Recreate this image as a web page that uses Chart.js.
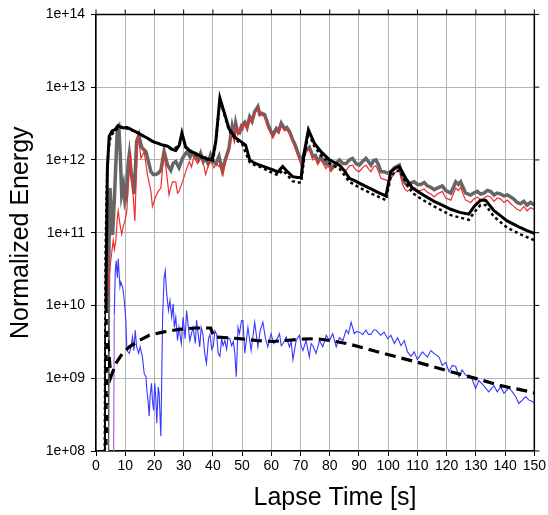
<!DOCTYPE html>
<html>
<head>
<meta charset="utf-8">
<script src="https://cdn.jsdelivr.net/npm/chart.js@4.4.0/dist/chart.umd.min.js"></script>
<style>
  html, body { margin: 0; padding: 0; background: #fff; }
  #energy { display: block; }
</style>
</head>
<body>
<canvas id="energy" width="548" height="515"></canvas>
<script>
// Tick labels
const xTicks = [0, 10, 20, 30, 40, 50, 60, 70, 80, 90, 100, 110, 120, 130, 140, 150];
const yTicks = [1e8, 1e9, 1e10, 1e11, 1e12, 1e13, 1e14];

// Total energy (thick black)
const blackT = [3.2, 3.5, 3.9, 4.5, 5.5, 6.5, 7.5, 8.5, 9.5, 10.5, 11.5, 12.5, 13.5, 14.8, 16, 17.5, 19.3, 21, 22.8, 24.5, 26, 27.3, 28.5, 29.4, 30.7, 32.5, 34.1, 36, 37.5, 39.8, 41, 42.4, 43.8, 45.5, 47.8, 49.5, 51.2, 52.6, 54.3, 56, 57.5, 59.4, 61, 62.2, 63.9, 65.5, 67.3, 69, 70.2, 71.3, 72.7, 74.7, 77, 79.9, 81.5, 83.3, 85, 86.7, 88.5, 90.1, 92.5, 94.6, 97, 99.2, 100.9, 102.6, 103.8, 106, 108.3, 112, 115.7, 118.5, 121.4, 124.5, 127.6, 129.4, 131.6, 133.3, 136.2, 138.5, 140.7, 143, 145.3, 147.5, 149.3, 150];
const blackE = [8e7, 3.2e10, 7.9e11, 2.1e12, 2.5e12, 2.6e12, 2.95e12, 2.8e12, 2.75e12, 2.8e12, 2.7e12, 2.55e12, 2.45e12, 2.3e12, 2.15e12, 2.0e12, 1.8e12, 1.7e12, 1.6e12, 1.55e12, 1.4e12, 1.35e12, 1.6e12, 2.35e12, 1.5e12, 1.3e12, 1.23e12, 1.12e12, 1.05e12, 1.0e12, 1.8e12, 7.1e12, 4.6e12, 2.7e12, 2.0e12, 1.8e12, 1.6e12, 1.0e12, 9.0e11, 8.5e11, 8.1e11, 7.6e11, 7.2e11, 6.8e11, 8.1e11, 6.9e11, 5.9e11, 5.75e11, 5.75e11, 1.3e12, 2.6e12, 1.7e12, 1.3e12, 1.0e12, 9.3e11, 8.5e11, 7.1e11, 5.6e11, 5.2e11, 4.8e11, 4.3e11, 3.9e11, 3.5e11, 3.2e11, 6.9e11, 7.8e11, 8.1e11, 5.6e11, 4.1e11, 3.3e11, 2.7e11, 2.4e11, 2.1e11, 1.9e11, 1.8e11, 2.3e11, 2.8e11, 2.8e11, 2.0e11, 1.7e11, 1.45e11, 1.3e11, 1.17e11, 1.07e11, 1.0e11, 9.8e10];

// Total energy, second estimate (black dotted)
const dotT = [3.0, 3.3, 3.8, 4.3, 5, 6.5, 8, 10, 12, 14.8, 17.5, 20, 23, 26, 28.5, 29.4, 30.7, 34, 37.5, 40, 41, 42.4, 43.8, 45.5, 47.8, 50, 52.6, 54.3, 57, 59.4, 62.2, 63.9, 65.5, 67.3, 69, 70.2, 71.3, 72.7, 74.7, 77, 80, 83.3, 86.7, 90, 94.6, 99.2, 100.9, 102.6, 103.8, 106, 108.3, 112, 115.7, 121.4, 127.6, 129.4, 131.6, 133.3, 136.2, 140.7, 145.3, 149.3, 150];
const dotE = [8e7, 6.3e10, 6.3e11, 1.4e12, 2.15e12, 2.5e12, 2.9e12, 2.75e12, 2.6e12, 2.3e12, 2.0e12, 1.75e12, 1.6e12, 1.4e12, 1.55e12, 2.25e12, 1.5e12, 1.2e12, 1.02e12, 9.8e11, 1.7e12, 6.8e12, 4.4e12, 2.55e12, 1.9e12, 1.65e12, 9.3e11, 8.5e11, 7.8e11, 6.9e11, 6.2e11, 7.2e11, 6.2e11, 5.1e11, 4.9e11, 4.9e11, 1.12e12, 2.35e12, 1.55e12, 1.15e12, 8.9e11, 7.6e11, 5.0e11, 4.2e11, 3.4e11, 2.8e11, 6.0e11, 6.9e11, 7.2e11, 5.0e11, 3.5e11, 2.8e11, 2.3e11, 1.74e11, 1.5e11, 1.9e11, 2.4e11, 2.4e11, 1.66e11, 1.17e11, 9.5e10, 8.1e10, 7.9e10];

// Horizontal component (gray)
const grayT = [3.8, 4.3, 4.8, 5.3, 5.7, 6.3, 7.3, 7.8, 8.3, 8.8, 9.4, 9.9, 10.4, 11.0, 11.4, 12.0, 12.5, 13.0, 13.5, 13.9, 14.7, 15.4, 15.9, 17.1, 17.8, 18.8, 19.6, 20.5, 21.3, 22.2, 23.3, 24.5, 25.6, 26.4, 27.3, 28.4, 29.6, 30.5, 31.3, 32.2, 33.0, 34.1, 35.0, 35.8, 36.7, 37.5, 38.3, 39.2, 40.1, 41.0, 42.1, 43.2, 44.4, 45.5, 46.6, 47.3, 47.8, 48.5, 49.1, 50.0, 50.9, 51.7, 52.6, 53.4, 54.3, 55.4, 56.0, 56.6, 57.7, 58.5, 59.4, 60.5, 61.7, 62.5, 63.4, 64.5, 65.3, 66.2, 67.3, 68.2, 69.1, 70.2, 71.3, 72.1, 73.0, 74.2, 75.1, 75.9, 77.0, 77.8, 78.7, 79.5, 80.4, 81.2, 82.1, 83.3, 84.5, 85.6, 86.7, 87.8, 89.0, 90.1, 91.2, 92.4, 93.2, 94.1, 95.0, 95.8, 96.7, 97.5, 98.6, 99.8, 101.0, 102.1, 103.8, 104.9, 105.8, 106.6, 107.7, 108.9, 110.0, 111.2, 112.3, 113.4, 114.6, 115.7, 116.8, 118.5, 119.7, 121.4, 122.3, 123.1, 124.0, 124.8, 125.6, 126.5, 127.4, 128.2, 129.3, 130.5, 131.6, 132.8, 133.9, 135.0, 136.2, 137.3, 138.5, 139.6, 140.8, 141.9, 143.0, 144.1, 145.2, 146.4, 147.5, 148.7, 150.0];
const grayE = [1e7, 3e10, 4.1e11, 1.5e11, 9.3e10, 3e11, 2.7e12, 2.9e12, 1.2e12, 3.4e11, 4.5e11, 2.7e11, 3.2e11, 9e11, 1.2e12, 7e11, 5e11, 3.4e11, 8e11, 1.8e12, 2.2e12, 1.6e12, 1.45e12, 1.3e12, 1.0e12, 6.9e11, 6.3e11, 6.3e11, 6.6e11, 7.2e11, 1.3e12, 8.5e11, 7.2e11, 9e11, 9.5e11, 7.8e11, 1.05e12, 1.2e12, 1.3e12, 1.1e12, 1.23e12, 1.12e12, 1.0e12, 1.23e12, 9.5e11, 1.05e12, 9e11, 1.17e12, 9.5e11, 8.9e11, 1.12e12, 7.2e11, 1.05e12, 1.45e12, 2.9e12, 2.2e12, 3.2e12, 2.4e12, 2.35e12, 3.0e12, 3.3e12, 2.8e12, 3.9e12, 3.4e12, 4.6e12, 5.4e12, 4.3e12, 4.4e12, 4.2e12, 3.4e12, 2.7e12, 2.2e12, 2.7e12, 2.5e12, 3.2e12, 2.7e12, 2.8e12, 2.45e12, 1.9e12, 1.6e12, 1.25e12, 9.5e11, 1.25e12, 1.4e12, 1.5e12, 1.12e12, 1.15e12, 9.5e11, 1.12e12, 9.5e11, 8.8e11, 9.5e11, 7.6e11, 8.3e11, 9e11, 1.0e12, 8.9e11, 8.9e11, 1.0e12, 1.05e12, 8.9e11, 8.5e11, 9.5e11, 1.05e12, 9.5e11, 8.5e11, 9.8e11, 1.0e12, 8.5e11, 6.9e11, 6.9e11, 6.6e11, 6.9e11, 7.8e11, 8.5e11, 5.6e11, 4.8e11, 4.4e11, 4.8e11, 5.0e11, 4.6e11, 4.6e11, 4.9e11, 4.4e11, 4.2e11, 3.9e11, 4.1e11, 4.4e11, 3.8e11, 3.5e11, 4.2e11, 5.0e11, 4.6e11, 5.0e11, 4.2e11, 3.5e11, 3.4e11, 3.3e11, 3.5e11, 3.7e11, 3.4e11, 3.5e11, 3.8e11, 3.7e11, 3.3e11, 3.5e11, 3.4e11, 3.2e11, 3.3e11, 3.1e11, 2.9e11, 2.6e11, 2.5e11, 2.7e11, 2.4e11, 2.6e11, 2.4e11];

// Horizontal component, second estimate (red)
const redT = [2.8, 3.0, 3.3, 4.0, 5.0, 5.9, 6.3, 6.8, 7.3, 7.6, 8.2, 8.8, 9.3, 9.9, 10.5, 11.0, 11.8, 12.4, 13.3, 13.8, 14.4, 15.4, 16.5, 17.6, 18.8, 19.3, 20.5, 21.3, 22.2, 22.8, 23.3, 24.1, 25.0, 25.6, 26.2, 27.3, 27.9, 28.4, 29.6, 30.7, 31.9, 32.7, 33.5, 34.7, 35.5, 36.4, 37.5, 38.3, 39.2, 40.4, 41.2, 42.1, 42.8, 43.5, 44.4, 45.5, 46.6, 47.3, 47.8, 48.5, 49.5, 50.3, 50.9, 51.7, 52.6, 53.4, 54.3, 55.4, 56.0, 56.6, 57.7, 58.5, 59.4, 60.5, 61.7, 62.5, 63.4, 64.5, 65.3, 66.2, 67.3, 68.2, 69.1, 70.2, 71.3, 72.1, 73.0, 74.2, 75.1, 75.9, 77.0, 77.8, 78.7, 79.5, 80.4, 81.2, 82.1, 83.3, 84.5, 85.6, 86.7, 87.8, 89.0, 90.1, 91.2, 92.4, 93.2, 94.1, 95.0, 95.8, 96.7, 97.5, 98.6, 99.8, 101.0, 102.1, 103.8, 104.9, 105.8, 106.6, 107.7, 108.9, 110.0, 111.2, 112.3, 113.4, 114.6, 115.7, 116.8, 118.5, 119.7, 121.4, 122.3, 123.1, 124.0, 124.8, 125.6, 126.5, 127.4, 128.2, 129.3, 130.5, 131.6, 132.8, 133.9, 135.0, 136.2, 137.3, 138.5, 139.6, 140.8, 141.9, 143.0, 144.1, 145.2, 146.4, 147.5, 148.7, 150.0];
const redE = [1e7, 3e9, 6.6e9, 1.5e10, 4e10, 7.8e10, 5.9e10, 7.8e10, 1.6e11, 2.0e11, 1.3e11, 9.5e10, 1.2e11, 1.45e11, 1.9e11, 4.1e11, 1.3e12, 5e11, 1.45e11, 6e11, 2.2e12, 1.05e12, 1.3e12, 6.3e11, 3.7e11, 2.3e11, 3.2e11, 3.7e11, 4.1e11, 8e11, 1.17e12, 6.9e11, 3.3e11, 4.2e11, 5e11, 5e11, 3.5e11, 3.7e11, 5e11, 6.9e11, 9.5e11, 8e11, 1.12e12, 8.9e11, 1.0e12, 1.05e12, 6.3e11, 8e11, 9.5e11, 7.8e11, 9e11, 8.1e11, 9e11, 6.3e11, 1.0e12, 1.3e12, 2.45e12, 1.8e12, 2.8e12, 2.2e12, 3.0e12, 2.6e12, 3.2e12, 2.6e12, 3.7e12, 3.2e12, 4.4e12, 5.2e12, 4.0e12, 4.2e12, 3.9e12, 3.0e12, 2.5e12, 2.0e12, 2.5e12, 2.3e12, 3.0e12, 2.5e12, 2.6e12, 2.3e12, 1.75e12, 1.45e12, 1.15e12, 8.7e11, 1.15e12, 1.3e12, 1.4e12, 1.0e12, 1.05e12, 8.7e11, 1.02e12, 8.7e11, 7.6e11, 8.5e11, 6.9e11, 7.6e11, 8.2e11, 8.5e11, 7.2e11, 7.2e11, 8.3e11, 8.5e11, 7.2e11, 6.9e11, 7.8e11, 8.5e11, 7.6e11, 6.9e11, 8e11, 8.3e11, 6.9e11, 5.6e11, 5.4e11, 5.2e11, 5.6e11, 6.6e11, 7.2e11, 4.6e11, 3.9e11, 3.7e11, 4.0e11, 4.2e11, 3.8e11, 3.8e11, 4.0e11, 3.6e11, 3.4e11, 3.1e11, 3.4e11, 3.7e11, 3.0e11, 2.8e11, 3.4e11, 4.1e11, 3.8e11, 4.2e11, 3.4e11, 2.8e11, 2.7e11, 2.6e11, 2.9e11, 3.1e11, 2.8e11, 3.0e11, 3.2e11, 3.1e11, 2.7e11, 3.0e11, 2.9e11, 2.6e11, 2.8e11, 2.5e11, 2.3e11, 2.1e11, 2.0e11, 2.3e11, 2.0e11, 2.2e11, 2.1e11];

// Vertical component (blue); first step is the onset marker
const blueT = [6.0, 6.26, 6.6, 6.9, 7.3, 7.6, 8.2, 8.5, 9.1, 9.7, 10.2, 10.6, 11.4, 11.9, 12.5, 13.0, 13.4, 13.9, 14.6, 15.1, 15.9, 16.5, 17.1, 17.4, 17.9, 18.2, 18.5, 19.0, 19.3, 19.7, 20.1, 20.5, 20.8, 21.3, 21.6, 22.2, 22.8, 23.3, 23.7, 24.1, 24.8, 25.3, 25.9, 26.4, 26.8, 27.3, 27.9, 28.4, 29.2, 29.8, 30.5, 31.0, 31.5, 32.1, 33.2, 34.0, 34.4, 35.5, 36.0, 36.6, 37.2, 37.8, 38.5, 39.0, 39.6, 40.1, 40.7, 41.3, 41.8, 42.4, 43.0, 43.5, 44.1, 44.7, 45.2, 45.8, 46.4, 47.0, 47.5, 48.0, 48.6, 49.1, 49.8, 50.3, 50.9, 52.0, 53.1, 54.3, 55.4, 56.2, 57.1, 58.0, 58.8, 59.9, 60.8, 61.7, 62.8, 63.4, 64.0, 65.1, 66.2, 66.8, 67.4, 68.5, 69.6, 70.2, 70.8, 71.9, 73.0, 73.6, 74.2, 75.3, 76.5, 77.6, 78.8, 79.9, 81.0, 82.2, 83.3, 84.5, 85.6, 86.4, 87.3, 88.4, 89.2, 90.1, 91.3, 92.4, 93.2, 94.1, 95.0, 95.8, 96.7, 97.5, 98.6, 99.8, 100.9, 102.1, 103.2, 104.4, 105.5, 106.6, 107.8, 108.9, 110.0, 111.7, 113.4, 114.6, 115.7, 117.4, 118.5, 119.7, 120.8, 121.9, 123.1, 124.2, 125.3, 126.5, 127.6, 128.7, 129.9, 131.0, 132.7, 134.4, 136.2, 137.3, 138.5, 139.6, 141.3, 142.5, 143.6, 144.7, 145.9, 147.0, 148.2, 149.3, 150.0];
const blueE = [5e7, 7.6e9, 3.0e10, 4.1e10, 2.4e10, 4.4e10, 1.8e10, 2.1e10, 1.8e10, 1.17e10, 6.2e9, 2.4e9, 2.2e9, 2.6e9, 3.7e9, 2.4e9, 4.6e9, 2.7e9, 2.2e9, 2.7e9, 1.95e9, 1.15e9, 1.05e9, 6.9e8, 4.5e8, 3.0e8, 5.6e8, 8.5e8, 5.0e8, 3.6e8, 8.5e8, 5.0e8, 2.4e8, 7.6e8, 6.2e8, 1.6e8, 6.9e9, 2.4e10, 3.0e10, 1.6e10, 8.5e9, 1.17e10, 6.9e9, 1.05e10, 5.0e9, 6.9e9, 3.3e9, 5.0e9, 3.0e9, 6.9e9, 3.5e9, 8.5e9, 5.5e9, 3.3e9, 5.0e9, 3.0e9, 6.3e9, 2.7e9, 5.0e9, 4.0e9, 2.2e9, 1.6e9, 3.5e9, 4.0e9, 2.5e9, 2.7e9, 4.5e9, 4.0e9, 2.2e9, 2.0e9, 3.5e9, 2.8e9, 3.3e9, 2.5e9, 3.6e9, 3.5e9, 2.8e9, 3.2e9, 2.2e9, 1.05e9, 5.0e9, 4.1e9, 6.2e9, 6.2e9, 2.2e9, 5.0e9, 2.4e9, 5.9e9, 2.7e9, 4.5e9, 5.9e9, 3.5e9, 2.7e9, 4.1e9, 3.0e9, 3.3e9, 4.1e9, 2.8e9, 3.0e9, 3.7e9, 2.7e9, 3.2e9, 1.8e9, 3.3e9, 3.9e9, 2.8e9, 2.4e9, 3.3e9, 1.95e9, 3.0e9, 2.8e9, 2.2e9, 3.3e9, 2.7e9, 3.9e9, 3.3e9, 4.1e9, 2.7e9, 3.6e9, 3.3e9, 4.6e9, 4.1e9, 5.9e9, 4.1e9, 4.4e9, 4.3e9, 4.0e9, 4.6e9, 4.0e9, 4.0e9, 4.6e9, 4.6e9, 4.2e9, 3.9e9, 4.3e9, 3.5e9, 3.9e9, 3.0e9, 3.6e9, 2.8e9, 3.3e9, 2.3e9, 2.0e9, 2.3e9, 1.8e9, 2.3e9, 1.95e9, 2.4e9, 2.2e9, 1.95e9, 1.5e9, 1.65e9, 1.23e9, 1.5e9, 1.45e9, 1.05e9, 1.3e9, 1.1e9, 1.1e9, 9.8e8, 7.2e8, 9.3e8, 7.9e8, 6.5e8, 7.9e8, 6.5e8, 7.6e8, 6.2e8, 7.4e8, 6.5e8, 5.6e8, 4.5e8, 5.0e8, 5.6e8, 5.0e8, 4.8e8, 4.5e8];

// Model fit (thick dashed)
const fitT = [3.6, 3.7, 5.1, 6.8, 9.1, 11.4, 14.8, 18.2, 22.8, 28.4, 34.1, 39.2, 40.4, 45.0, 49.1, 55.0, 60.5, 65.0, 70.0, 75.3, 80.0, 86.7, 94.7, 99.2, 110.0, 121.4, 130.5, 138.5, 148.7, 150.0];
const fitE = [5e7, 4.6e9, 1.05e9, 1.6e9, 2.2e9, 2.7e9, 3.3e9, 3.9e9, 4.3e9, 4.7e9, 4.9e9, 4.9e9, 3.7e9, 3.6e9, 3.5e9, 3.3e9, 3.2e9, 3.3e9, 3.45e9, 3.5e9, 3.3e9, 2.95e9, 2.4e9, 2.15e9, 1.66e9, 1.23e9, 9.8e8, 7.9e8, 6.5e8, 6.3e8];

// Origin time marker (white dashed)
const originT = [3.75, 3.75];
const originE = [1e8, 9.5e9];

const pts = (ts, es) => ts.map((t, i) => ({ x: t, y: es[i] }));

const FONT = '"Liberation Sans", Arial, sans-serif';
Chart.defaults.font.family = FONT;
Chart.defaults.color = '#000';

function line(data, color, width, extra) {
  return Object.assign({
    data: data,
    borderColor: color,
    borderWidth: width,
    pointRadius: 0,
    fill: false,
    tension: 0
  }, extra || {});
}

// Frame on top/right, outward ticks there, and the x axis title
const framePlugin = {
  id: 'frame',
  afterDraw(chart) {
    const { ctx, chartArea: a, scales } = chart;
    ctx.save();
    ctx.strokeStyle = '#000';
    ctx.lineWidth = 1.5;
    ctx.beginPath();
    ctx.moveTo(a.left, a.top);
    ctx.lineTo(a.right, a.top);
    ctx.lineTo(a.right, a.bottom);
    ctx.stroke();
    ctx.lineWidth = 1;
    ctx.beginPath();
    xTicks.forEach(v => {
      const px = scales.x.getPixelForValue(v);
      ctx.moveTo(px, a.top);
      ctx.lineTo(px, a.top - 5);
    });
    yTicks.forEach(v => {
      const py = scales.y.getPixelForValue(v);
      ctx.moveTo(a.right, py);
      ctx.lineTo(a.right + 5, py);
    });
    ctx.stroke();
    ctx.fillStyle = '#000';
    ctx.font = '25px ' + FONT;
    ctx.textAlign = 'center';
    ctx.textBaseline = 'middle';
    ctx.fillText('Lapse Time [s]', 335, 498);
    ctx.restore();
  }
};

new Chart(document.getElementById('energy'), {
  type: 'line',
  data: {
    datasets: [
      line(pts(grayT, grayE), '#666666', 3.5, { order: 7 }),
      line(pts(redT, redE), '#f22c2c', 1.2, { order: 6 }),
      line(pts(dotT, dotE), '#000000', 2.5, { borderDash: [3, 3], order: 5 }),
      line(pts(blackT, blackE), '#000000', 3, { order: 4 }),
      line(pts(blueT, blueE), '#3838ff', 1.1, {
        order: 3,
        segment: { borderColor: c => (c.p0DataIndex === 0 ? '#a05ad8' : undefined) }
      }),
      line(pts(fitT, fitE), '#000000', 3.2, { borderDash: [11, 6], order: 2 }),
      line(pts(originT, originE), '#ffffff', 2, { borderDash: [6, 6], order: 1 })
    ]
  },
  options: {
    responsive: false,
    animation: false,
    devicePixelRatio: 1,
    layout: { padding: { top: 12, right: 13, left: 0, bottom: 0 } },
    plugins: { legend: { display: false }, tooltip: { enabled: false } },
    scales: {
      x: {
        type: 'linear',
        min: 0,
        max: 150,
        afterFit: s => { s.height = 64; },
        afterBuildTicks: s => { s.ticks = xTicks.map(v => ({ value: v })); },
        ticks: { autoSkip: false, maxRotation: 0, padding: 2, font: { size: 14 } },
        grid: { color: '#b4b4b4', lineWidth: 1, tickColor: '#000', tickLength: 5 },
        border: { color: '#000', width: 1.5 }
      },
      y: {
        type: 'logarithmic',
        min: 1e8,
        max: 1e14,
        afterFit: s => { s.width = 96; },
        afterBuildTicks: s => { s.ticks = yTicks.map(v => ({ value: v })); },
        ticks: {
          padding: 6,
          font: { size: 14 },
          callback: v => '1e+' + String(Math.round(Math.log10(v))).padStart(2, '0')
        },
        grid: { color: '#b4b4b4', lineWidth: 1, tickColor: '#000', tickLength: 5 },
        border: { color: '#000', width: 1.5 },
        title: {
          display: true,
          text: 'Normalized Energy',
          font: { size: 25 },
          padding: { top: 6, bottom: 0 }
        }
      }
    }
  },
  plugins: [framePlugin]
});
</script>
</body>
</html>
